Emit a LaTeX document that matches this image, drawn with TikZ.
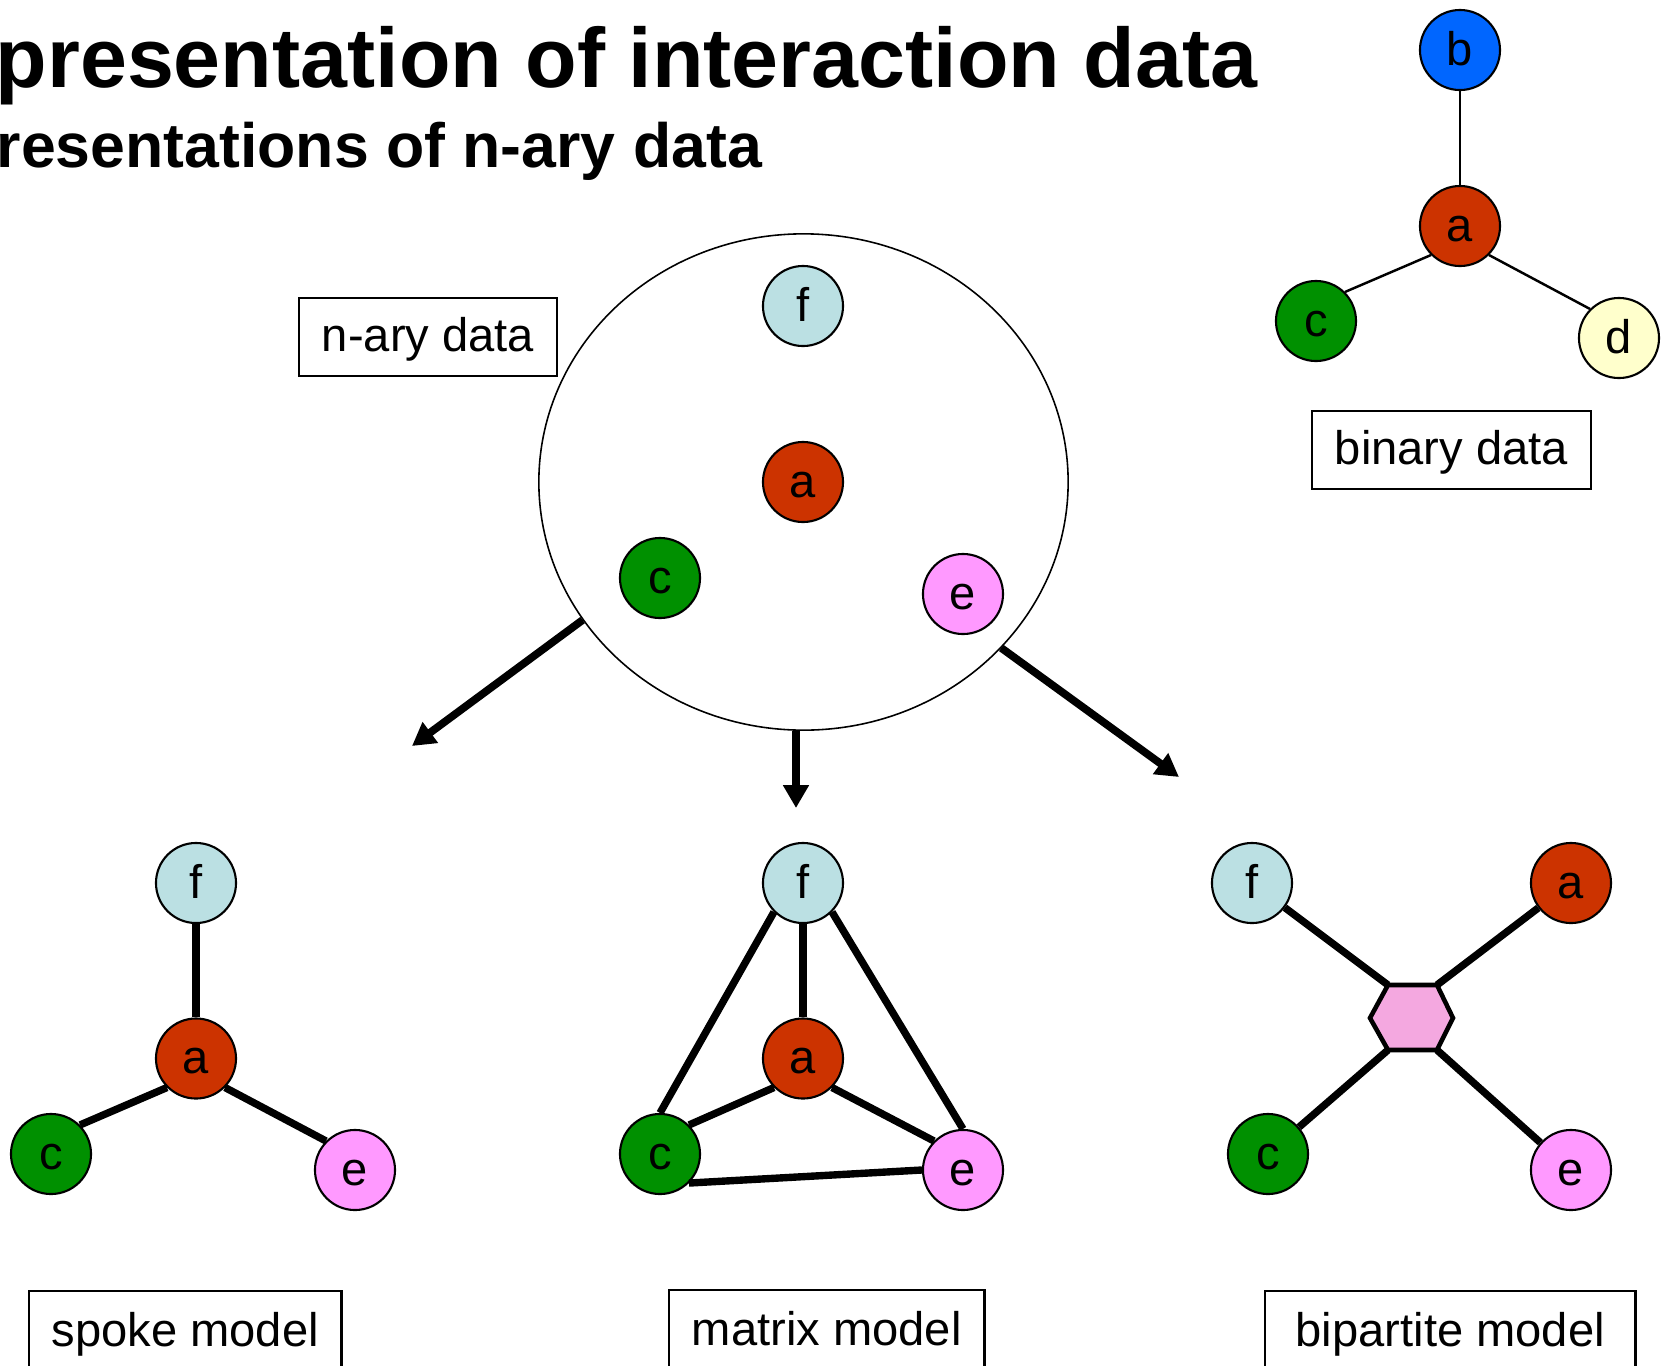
\documentclass[tikz,border=0pt]{standalone}
\usepackage{fontspec}
\setmainfont{Liberation Sans}
\usetikzlibrary{shapes.geometric,arrows.meta,calc}
\definecolor{cb}{HTML}{0066FF}
\definecolor{ca}{HTML}{CC3300}
\definecolor{cc}{HTML}{009000}
\definecolor{cd}{HTML}{FFFFCC}
\definecolor{ce}{HTML}{FF99FF}
\definecolor{cf}{HTML}{BBE0E3}
\definecolor{chx}{HTML}{F4A8E0}
\tikzset{
  vtx/.style={circle,draw=black,line width=0.6pt,minimum size=0.8cm,inner sep=0pt,
    font=\fontsize{13.4}{16}\selectfont,text height=0.88em,text depth=0pt},
  va/.style={vtx,fill=ca},
  vb/.style={vtx,fill=cb},
  vc/.style={vtx,fill=cc},
  vd/.style={vtx,fill=cd},
  ve/.style={vtx,fill=ce},
  vf/.style={vtx,fill=cf},
  lbox/.style={draw=black,line width=0.7pt,rectangle,inner sep=0pt,
    font=\fontsize{13.4}{16}\selectfont,text height=0.78em,text depth=0.15em},
  tbox/.style={lbox,text height=0.95em,text depth=0.12em},
  thin edge/.style={line width=0.7pt},
  thick edge/.style={line width=2.1pt},
  bigarrow/.style={line width=2.2pt,-{Triangle[length=6.5pt,width=7pt]}},
}
\begin{document}
\begin{tikzpicture}[x=0.01cm,y=-0.01cm]
\useasboundingbox (0,0) rectangle (1668,1366);
\clip (0,0) rectangle (1668,1366);

% titles
\node[anchor=base west,inner sep=0pt,font=\fontsize{24}{28}\selectfont\bfseries] (title) at (-5,87) {presentation of interaction data};
\node[anchor=base west,inner sep=0pt,font=\fontsize{17.8}{21}\selectfont\bfseries] (subtitle) at (-4,167) {resentations of n-ary data};

% binary data
\node[vb] (bb) at (1460,50) {b};
\node[va] (ba) at (1460,226) {a};
\node[vc] (bc) at (1316,321) {c};
\node[vd] (bd) at (1619,338) {d};
\draw[thin edge] (ba) -- (bb);
\draw[thin edge] (ba.225) -- (bc.45);
\draw[thin edge] (ba.-45) -- (bd.135);
\node[tbox,minimum width=2.79cm,minimum height=0.78cm] (binlbl) at (1451.5,450) {binary data};

% n-ary data
\node[draw=black,line width=0.45pt,ellipse,minimum width=5.29cm,minimum height=4.96cm,inner sep=0pt] (cloud) at (803.5,482) {};
\node[tbox,minimum width=2.58cm,minimum height=0.78cm] (narylbl) at (428,337) {n-ary data};
\node[vf] (nf) at (803,306) {f};
\node[va] (na) at (803,482) {a};
\node[vc] (nc) at (660,578) {c};
\node[ve] (ne) at (963,594) {e};

% arrows
\coordinate (tl) at (412,746);
\coordinate (tm) at (796,808);
\coordinate (tr) at (1179,777);
\draw[bigarrow] (cloud.212.5) -- (tl);
\draw[bigarrow] (cloud.south -| tm) -- (tm);
\draw[bigarrow] (cloud.-40) -- (tr);

% spoke model
\node[vf] (sf) at (196,883) {f};
\node[va] (sa) at (196,1058.5) {a};
\node[vc] (sc) at (51,1154) {c};
\node[ve] (se) at (355,1170) {e};
\draw[thick edge] (sa) -- (sf);
\draw[thick edge] (sa.225) -- (sc.45);
\draw[thick edge] (sa.-45) -- (se.135);
\node[lbox,anchor=north west,minimum width=3.12cm,minimum height=0.88cm] (spokelbl) at (28,1290) {spoke model};

% matrix model
\node[vf] (mf) at (803,883) {f};
\node[va] (ma) at (803,1058.5) {a};
\node[vc] (mc) at (660,1154) {c};
\node[ve] (me) at (963,1170) {e};
\draw[thick edge] (mf) -- (ma);
\draw[thick edge] (mf.225) -- (mc.north);
\draw[thick edge] (mf.-45) -- (me.north);
\draw[thick edge] (ma.225) -- (mc.45);
\draw[thick edge] (ma.-45) -- (me.135);
\draw[thick edge] (mc.-45) -- (me.west);
\node[lbox,anchor=north west,minimum width=3.15cm,minimum height=0.88cm] (matrixlbl) at (668,1289) {matrix model};

% bipartite model
\coordinate (h1) at (1388,985);
\coordinate (h2) at (1437,985);
\coordinate (h3) at (1453,1018);
\coordinate (h4) at (1437,1050);
\coordinate (h5) at (1388,1050);
\coordinate (h6) at (1370,1018);
\node[vf] (pf) at (1252,883) {f};
\node[va] (pa) at (1571,883) {a};
\node[vc] (pc) at (1268,1154) {c};
\node[ve] (pe) at (1571,1170) {e};
\draw[thick edge] (pf) -- (h1);
\draw[thick edge] (pa) -- (h2);
\draw[thick edge] (pc) -- (h5);
\draw[thick edge] (pe) -- (h4);
\draw[line width=1.3pt,fill=chx,line join=miter] (h1) -- (h2) -- (h3) -- (h4) -- (h5) -- (h6) -- cycle;
\node[lbox,anchor=north west,minimum width=3.7cm,minimum height=0.88cm] (biplbl) at (1264,1290) {bipartite model};
\end{tikzpicture}
\end{document}
